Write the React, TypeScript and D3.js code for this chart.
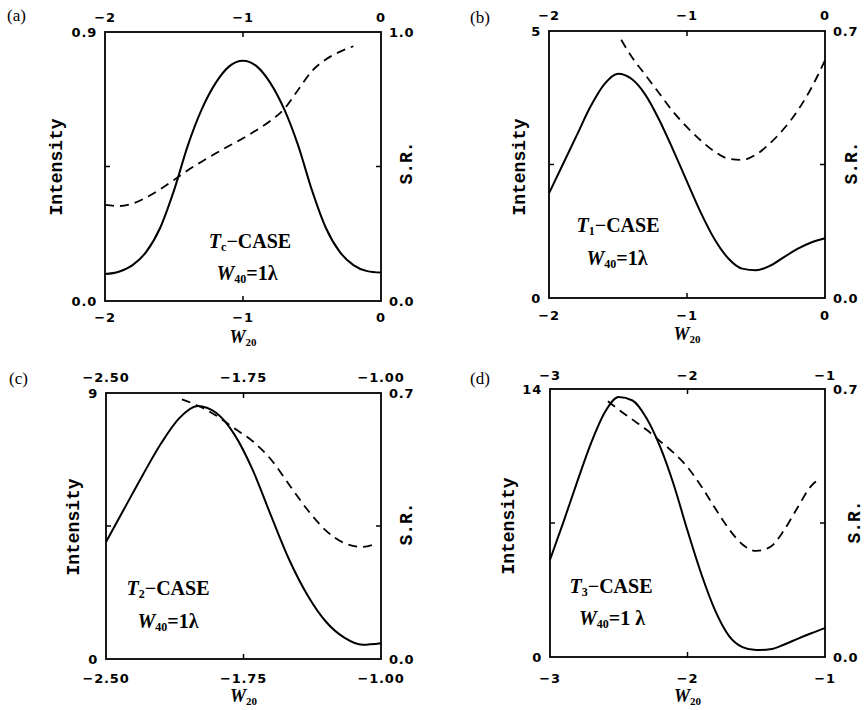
import React from "react";
import * as d3 from "d3";

// ---------- data ----------
const aX = [-2.0, -1.9, -1.8, -1.7, -1.6, -1.5, -1.4, -1.3, -1.2, -1.1, -1.0, -0.9, -0.8, -0.7, -0.6, -0.5, -0.4, -0.3, -0.2, -0.1, 0.0];
const aIntensity = [0.09, 0.098, 0.12, 0.165, 0.245, 0.37, 0.52, 0.64, 0.728, 0.785, 0.804, 0.785, 0.728, 0.64, 0.52, 0.37, 0.245, 0.165, 0.12, 0.1, 0.095];
const aSRx = [-2.0, -1.9, -1.8, -1.7, -1.6, -1.5, -1.4, -1.3, -1.2, -1.1, -1.0, -0.9, -0.8, -0.7, -0.6, -0.5, -0.4, -0.3, -0.2];
const aSR = [0.357, 0.353, 0.362, 0.385, 0.415, 0.45, 0.486, 0.518, 0.548, 0.577, 0.605, 0.636, 0.67, 0.715, 0.785, 0.855, 0.898, 0.926, 0.947];

const bX = [-2.0, -1.9, -1.8, -1.7, -1.6, -1.5, -1.4, -1.3, -1.2, -1.1, -1.0, -0.9, -0.8, -0.7, -0.6, -0.5, -0.4, -0.3, -0.2, -0.1, 0.0];
const bIntensity = [1.96, 2.5, 3.04, 3.58, 4.0, 4.2, 4.1, 3.8, 3.33, 2.77, 2.18, 1.6, 1.1, 0.74, 0.55, 0.52, 0.6, 0.76, 0.92, 1.04, 1.12];
const bSRx = [-1.477, -1.4, -1.3, -1.2, -1.1, -1.0, -0.9, -0.8, -0.7, -0.6, -0.5, -0.4, -0.3, -0.2, -0.1, 0.0];
const bSR = [0.677, 0.632, 0.584, 0.536, 0.488, 0.448, 0.413, 0.384, 0.365, 0.362, 0.376, 0.405, 0.443, 0.49, 0.55, 0.623];

const cX = [-2.5, -2.4, -2.3, -2.2, -2.1, -2.0, -1.9, -1.8, -1.7, -1.6, -1.5, -1.4, -1.3, -1.2, -1.1, -1.0];
const cIntensity = [3.96, 5.09, 6.22, 7.29, 8.15, 8.56, 8.33, 7.6, 6.4, 4.85, 3.35, 2.15, 1.26, 0.72, 0.48, 0.53];
const cSRx = [-2.086, -2.0, -1.9, -1.8, -1.7, -1.6, -1.5, -1.4, -1.3, -1.2, -1.1, -1.02];
const cSR = [0.683, 0.667, 0.641, 0.607, 0.573, 0.525, 0.458, 0.392, 0.338, 0.305, 0.295, 0.305];

const dX = [-3.0, -2.9, -2.8, -2.7, -2.6, -2.5, -2.4, -2.3, -2.2, -2.1, -2.0, -1.9, -1.8, -1.7, -1.6, -1.5, -1.4, -1.3, -1.2, -1.1, -1.0];
const dIntensity = [5.08, 7.1, 9.2, 11.2, 12.8, 13.58, 13.4, 12.5, 11.0, 9.0, 6.6, 4.35, 2.45, 1.12, 0.52, 0.36, 0.4, 0.64, 0.95, 1.24, 1.51];
const dSRx = [-2.579, -2.5, -2.4, -2.3, -2.2, -2.1, -2.0, -1.9, -1.8, -1.7, -1.6, -1.5, -1.4, -1.3, -1.2, -1.1, -1.03];
const dSR = [0.668, 0.646, 0.62, 0.594, 0.564, 0.533, 0.496, 0.446, 0.389, 0.335, 0.294, 0.277, 0.287, 0.33, 0.39, 0.447, 0.467];

const xTickLabelsA = ["−2", "−1", "0"];
const xTickLabelsC = ["−2.50", "−1.75", "−1.00"];
const xTickLabelsD = ["−3", "−2", "−1"];

// ---------- layout ----------
type Panel = {
  tag: string;
  box: [number, number, number, number];
  xDomain: [number, number];
  xTicks: number[];
  xLabels: string[];
  yMax: number;
  yLabels: [string, string];
  srMax: number;
  srLabels: [string, string];
  x: number[];
  inten: number[];
  srx: number[];
  sr: number[];
  sub: string;
  lam: string;
  tagPos: [number, number];
  topBase: number;
  botBase: number;
  xlabBase: number;
  intenPos: [number, number];
  srPos: [number, number];
  ann1: [number, number];
  ann2: [number, number];
};

const panels: Panel[] = [
  {
    tag: "(a)", box: [105, 32, 381, 301], xDomain: [-2, 0], xTicks: [-2, -1, 0], xLabels: xTickLabelsA,
    yMax: 0.9, yLabels: ["0.0", "0.9"], srMax: 1.0, srLabels: ["0.0", "1.0"],
    x: aX, inten: aIntensity, srx: aSRx, sr: aSR, sub: "c", lam: "1λ",
    tagPos: [7, 21], topBase: 22, botBase: 322, xlabBase: 343, intenPos: [57, 167], srPos: [407, 163],
    ann1: [250, 248], ann2: [247, 280],
  },
  {
    tag: "(b)", box: [549, 31, 825, 298], xDomain: [-2, 0], xTicks: [-2, -1, 0], xLabels: xTickLabelsA,
    yMax: 5, yLabels: ["0", "5"], srMax: 0.7, srLabels: ["0.0", "0.7"],
    x: bX, inten: bIntensity, srx: bSRx, sr: bSR, sub: "1", lam: "1λ",
    tagPos: [470, 23], topBase: 20, botBase: 320, xlabBase: 340, intenPos: [520, 167], srPos: [852, 163],
    ann1: [618, 232], ann2: [617, 265],
  },
  {
    tag: "(c)", box: [106, 393, 381, 659], xDomain: [-2.5, -1.0], xTicks: [-2.5, -1.75, -1.0], xLabels: xTickLabelsC,
    yMax: 9, yLabels: ["0", "9"], srMax: 0.7, srLabels: ["0.0", "0.7"],
    x: cX, inten: cIntensity, srx: cSRx, sr: cSR, sub: "2", lam: "1λ",
    tagPos: [9, 384], topBase: 382, botBase: 683, xlabBase: 702, intenPos: [74, 527], srPos: [407, 524],
    ann1: [168, 595], ann2: [168, 628],
  },
  {
    tag: "(d)", box: [550, 389, 825, 657], xDomain: [-3, -1], xTicks: [-3, -2, -1], xLabels: xTickLabelsD,
    yMax: 14, yLabels: ["0", "14"], srMax: 0.7, srLabels: ["0.0", "0.7"],
    x: dX, inten: dIntensity, srx: dSRx, sr: dSR, sub: "3", lam: "1 λ",
    tagPos: [470, 384], topBase: 380, botBase: 683, xlabBase: 702, intenPos: [509, 526], srPos: [855, 522],
    ann1: [611, 593], ann2: [612, 625],
  },
];

const tickFont = "'DejaVu Sans', sans-serif";
const monoFont = "'Liberation Mono', 'DejaVu Sans Mono', monospace";
const serifFont = "'Liberation Serif', 'DejaVu Serif', serif";

function PanelView({ p }: { p: Panel }) {
  const [x0, y0, x1, y1] = p.box;
  const xs = d3.scaleLinear().domain(p.xDomain).range([x0, x1]);
  const yi = d3.scaleLinear().domain([0, p.yMax]).range([y1, y0]);
  const ysr = d3.scaleLinear().domain([0, p.srMax]).range([y1, y0]);
  const solid = d3
    .line<number>()
    .x((_, i) => xs(p.x[i]))
    .y((v) => yi(v))
    .curve(d3.curveMonotoneX)(p.inten) as string;
  const dashed = d3
    .line<number>()
    .x((_, i) => xs(p.srx[i]))
    .y((v) => ysr(v))
    .curve(d3.curveMonotoneX)(p.sr) as string;
  const midX = p.xTicks[1];
  const midY = p.yMax / 2;
  const tl = 5;
  const tickStyle = { fontFamily: tickFont, fontWeight: 700, fontSize: 13, letterSpacing: 0.8, fill: "#000" } as const;
  return (
    <g>
      <text x={p.tagPos[0]} y={p.tagPos[1]} fontFamily={serifFont} fontSize={17}>
        {p.tag}
      </text>
      <defs>
        <clipPath id={"clip" + p.tag}>
          <rect x={x0} y={y0} width={x1 - x0} height={y1 - y0} />
        </clipPath>
      </defs>
      <g clipPath={`url(#clip${p.tag})`}>
        <path d={solid} fill="none" stroke="#000" strokeWidth={2} />
        <path d={dashed} fill="none" stroke="#000" strokeWidth={1.8} strokeDasharray="9,6" />
      </g>
      <rect x={x0} y={y0} width={x1 - x0} height={y1 - y0} fill="none" stroke="#000" strokeWidth={1.8} />
      {/* ticks */}
      <line x1={xs(midX)} x2={xs(midX)} y1={y0} y2={y0 + tl} stroke="#000" strokeWidth={1.5} />
      <line x1={xs(midX)} x2={xs(midX)} y1={y1} y2={y1 - tl} stroke="#000" strokeWidth={1.5} />
      <line x1={x0} x2={x0 + tl} y1={yi(midY)} y2={yi(midY)} stroke="#000" strokeWidth={1.5} />
      <line x1={x1} x2={x1 - tl} y1={yi(midY)} y2={yi(midY)} stroke="#000" strokeWidth={1.5} />
      {/* x tick labels */}
      {p.xTicks.map((t, i) => (
        <g key={"xt" + i}>
          <text x={xs(t)} y={p.topBase} textAnchor="middle" {...tickStyle}>
            {p.xLabels[i]}
          </text>
          <text x={xs(t)} y={p.botBase} textAnchor="middle" {...tickStyle}>
            {p.xLabels[i]}
          </text>
        </g>
      ))}
      {/* y tick labels */}
      {[0, p.yMax].map((v, i) => (
        <text key={"yl" + i} x={x0 - 8} y={yi(v) + 5} textAnchor="end" {...tickStyle}>
          {p.yLabels[i]}
        </text>
      ))}
      {[0, p.srMax].map((v, i) => (
        <text key={"yr" + i} x={x1 + 8} y={ysr(v) + 5} textAnchor="start" {...tickStyle}>
          {p.srLabels[i]}
        </text>
      ))}
      {/* axis titles */}
      <text
        transform={`translate(${p.intenPos[0]},${p.intenPos[1]}) rotate(-90)`}
        textAnchor="middle"
        dominantBaseline="central"
        fontFamily={monoFont}
        fontWeight={700}
        fontSize={18}
      >
        Intensity
      </text>
      <text
        transform={`translate(${p.srPos[0]},${p.srPos[1]}) rotate(-90)`}
        textAnchor="middle"
        dominantBaseline="central"
        fontFamily={monoFont}
        fontWeight={700}
        fontSize={18}
      >
        S.R.
      </text>
      <text x={(x0 + x1) / 2} y={p.xlabBase} textAnchor="middle" fontFamily={serifFont} fontWeight={700}>
        <tspan fontStyle="italic" fontSize={18}>W</tspan>
        <tspan fontSize={11} dy={3}>20</tspan>
      </text>
      {/* annotations */}
      <text x={p.ann1[0]} y={p.ann1[1]} textAnchor="middle" fontFamily={serifFont} fontWeight={700} fontSize={20}>
        <tspan fontStyle="italic">T</tspan>
        <tspan fontSize={12} dy={3}>{p.sub}</tspan>
        <tspan dy={-3}>−CASE</tspan>
      </text>
      <text x={p.ann2[0]} y={p.ann2[1]} textAnchor="middle" fontFamily={serifFont} fontWeight={700} fontSize={20}>
        <tspan fontStyle="italic">W</tspan>
        <tspan fontSize={12} dy={3}>40</tspan>
        <tspan dy={-3}>{"=" + p.lam}</tspan>
      </text>
    </g>
  );
}

export default function App() {
  return (
    <svg
      width={866}
      height={710}
      viewBox="0 0 866 710"
      style={{ position: "absolute", left: 0, top: 0, background: "#fff" }}
    >
      <rect x={0} y={0} width={866} height={710} fill="#fff" />
      {panels.map((p) => (
        <PanelView key={p.tag} p={p} />
      ))}
    </svg>
  );
}
